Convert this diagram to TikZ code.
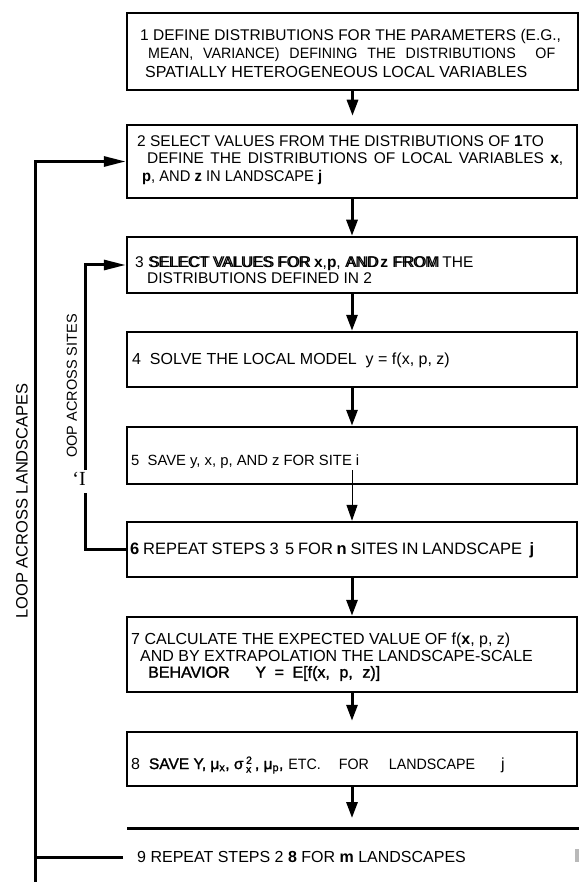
\documentclass[tikz,border=0pt]{standalone}
\usepackage{fontspec}
\setmainfont{Liberation Sans}
\newfontfamily\scanserif{Liberation Serif}
\newfontfamily\narrowsans[FakeStretch=0.95]{Liberation Sans}
\newfontfamily\heavysans[FakeBold=1.5]{Liberation Sans}
\usetikzlibrary{arrows.meta,positioning}

% doubled print and narrow caps of the scan
\newcommand\dbl[1]{\rlap{\hspace{1.6pt}#1}#1}
\newcommand\sm[1]{{\narrowsans\fontsize{15}{16}\selectfont #1}}
\newcommand\fs[1]{\fontsize{#1}{18}\selectfont}

\tikzset{
  stepbox/.style={draw, line width=2.5pt, minimum width=450pt, inner sep=0pt},
  steptext/.style={anchor=west, align=left, inner sep=0pt, font=\fontsize{16}{18}\selectfont},
  flow/.style={line width=3pt, -{Triangle[length=16pt,width=11pt]}},
  loopline/.style={line width=3pt},
  looptip/.style={-{Triangle[length=22pt,width=10pt]}},
  looplabel/.style={rotate=90, inner sep=0pt, font=\fontsize{15.5}{17}\selectfont}
}

\begin{document}
\begin{tikzpicture}[x=1pt, y=-1pt, line join=miter]
\useasboundingbox (0,0) rectangle (579,882);

% step boxes
\node[stepbox, minimum width=451pt, minimum height=77pt] (b1) at (352.5,51.5) {};
\node[stepbox, minimum height=73pt] (b2) at (352,161.5) {};
\node[stepbox, minimum height=56pt] (b3) at (352,265) {};
\node[stepbox, minimum height=55pt] (b4) at (352,359.5) {};
\node[stepbox, minimum height=57pt] (b5) at (352,455.5) {};
\node[stepbox, minimum height=55pt] (b6) at (352,549.5) {};
\node[stepbox, minimum height=75pt] (b7) at (352,654.5) {};
\node[stepbox, minimum height=54pt] (b8) at (352,759) {};
\coordinate (b9l) at (127,828);
\coordinate (b9r) at (579,828);
\draw[loopline] (b9l) -- (b9r);

% texts of the steps
\node[steptext, font=\fontsize{15.5}{18.5}\selectfont] (t1) at (140,53) {1 DEFINE DISTRIBUTIONS FOR THE PARAMETERS (E.G.,\\
  \hspace*{8pt}\makebox[407pt][s]{\sm{MEAN,\hfill VARIANCE)\hfill DEFINING\hfill THE\hfill DISTRIBUTIONS\hfill\hfill OF}}\\
  \hspace*{5pt}{\fs{16}SPATIALLY HETEROGENEOUS LOCAL VARIABLES}};
\node[steptext, font=\fontsize{15.5}{17.5}\selectfont] (t2) at (137,160) {2 SELECT VALUES FROM THE DISTRIBUTIONS OF \textbf{1}TO\\
  \hspace*{10pt}\makebox[416pt][s]{DEFINE THE DISTRIBUTIONS OF LOCAL VARIABLES \textbf{x},}\\
  \hspace*{5pt}{\narrowsans\fontsize{15.5}{16}\selectfont\textbf{p}, AND \textbf{z} IN LANDSCAPE \textbf{j}}};
\node[steptext, font=\fontsize{15.5}{16}\selectfont] (t3) at (135,270) {3 \dbl{SELECT VALUES FOR} \textbf{x},\textbf{p}, \dbl{AND}\,\textbf{z} \dbl{FROM} THE\\
  \hspace*{12pt}DISTRIBUTIONS DEFINED IN 2};
\node[steptext] (t4) at (132,360) {4\ \ SOLVE THE LOCAL MODEL\ \ y = f(x, p, z)};
\node[steptext, font=\fontsize{14.8}{18}\selectfont] (t5) at (131,462) {5\ \ SAVE y, x, p, AND z FOR SITE i};
\node[steptext, font=\fontsize{16.5}{18}\selectfont] (t6) at (130,550) {\makebox[404pt][s]{\textbf{6} REPEAT STEPS 3\ \,5 FOR \textbf{n} SITES IN LANDSCAPE\ \ \textbf{j}}};
\node[steptext, font=\fontsize{16}{16.5}\selectfont] (t7) at (131,657) {7 CALCULATE THE EXPECTED VALUE OF f(\textbf{x}, p, z)\\
  \hspace*{9pt}AND BY EXTRAPOLATION THE LANDSCAPE-SCALE\\
  \hspace*{17pt}\makebox[232pt][s]{\heavysans BEHAVIOR\ \ \ Y = E[f(x, p, z)]}};
\node[steptext] (t8) at (131,765) {8\ \ {\heavysans\fontsize{15.5}{16}\selectfont SAVE Y, μ\textsubscript{x}, σ\,$^{\mbox{\fontsize{10.5}{10}\selectfont 2}}_{\mbox{\fontsize{10.5}{10}\selectfont x}}$\,, μ\textsubscript{p},}\hspace{5pt}\sm{ETC.}\hspace{18pt}\sm{FOR}\hspace{20pt}\sm{LANDSCAPE}\hspace{26pt}j};
\node[steptext] (t9) at (137,857) {9 REPEAT STEPS 2\ \textbf{8} FOR\ \textbf{m} LANDSCAPES};

% flow between the steps
\coordinate (s5) at (352,470);
\draw[flow, shorten >=8pt] (b1.south) -- (b1.south |- b2.north);
\draw[flow] (b2.south) -- (b3.north);
\draw[flow] (b3.south) -- (b4.north);
\draw[flow] (b4.south) -- (b5.north);
\draw[line width=1pt, -{Triangle[length=16pt,width=11pt]}] (s5) -- (s5 |- b6.north);
\draw[flow] (b6.south) -- (b7.north);
\draw[flow, shorten >=10pt] (b7.south) -- (b8.north);
\draw[flow, shorten >=10pt] (b8.south) -- (b8.south |- b9l);

% loop across sites
\coordinate (sgap1) at (85,493);
\coordinate (sgap2) at (85,470);
\draw[loopline] (b6.west) -| (sgap1);
\draw[loopline, looptip] (sgap2) |- (b3.west);
\node[looplabel, font=\fontsize{14.5}{16}\selectfont] (lsite) at (72,386) {OOP ACROSS SITES};
\node[inner sep=0pt, font=\scanserif\fontsize{20}{20}\selectfont] (lmark) at (79,479) {‘I};

% loop across landscapes
\coordinate (lbot) at (35,882);
\coordinate (l9) at (35,857);
\draw[loopline, looptip] (lbot) |- (b2.west);
\draw[loopline, shorten <=14pt, shorten >=2pt] (t9.west) -- (l9);
\node[looplabel, font=\fontsize{16.5}{18}\selectfont] (lland) at (22,501) {LOOP ACROSS LANDSCAPES};

% scan remnant at the right
\fill[gray!55] (575,849) rectangle (578.5,862);
\end{tikzpicture}
\end{document}
